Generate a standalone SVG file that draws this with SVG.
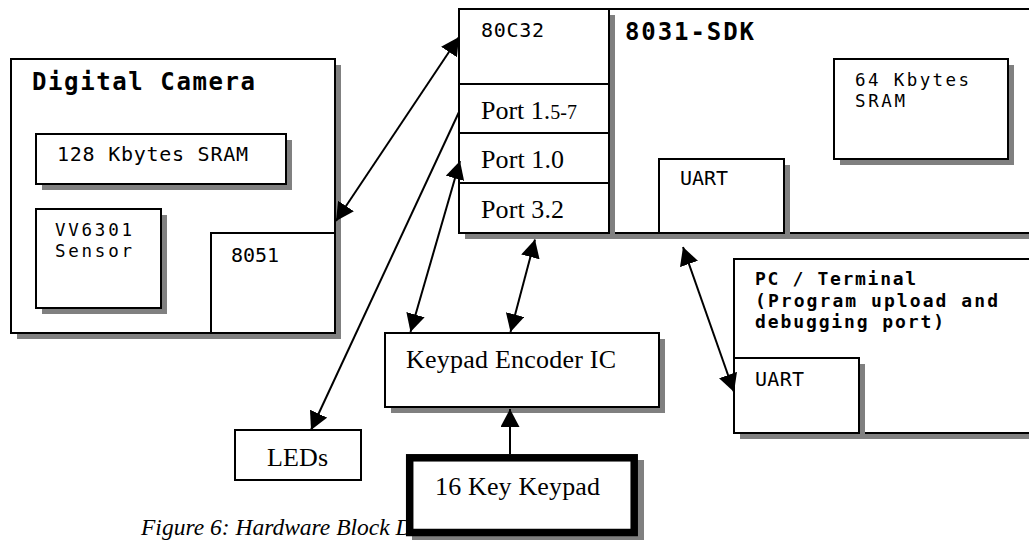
<svg xmlns="http://www.w3.org/2000/svg" width="1029" height="540" viewBox="0 0 1029 540">
  <style>
    .box{fill:#fff;stroke:#000;stroke-width:2}
    .shd{fill:#808080}
    .mono{font-family:"DejaVu Sans Mono","Liberation Mono",monospace;font-size:20px;fill:#000}
    .mono2{font-family:"DejaVu Sans Mono","Liberation Mono",monospace;font-size:17.5px;fill:#000}
    .head{font-family:"DejaVu Sans Mono","Liberation Mono",monospace;font-size:24px;font-weight:bold;fill:#000}
    .pc{font-family:"DejaVu Sans Mono","Liberation Mono",monospace;font-size:18px;font-weight:bold;fill:#000}
    .serif{font-family:"Liberation Serif","Times New Roman",serif;font-size:26px;fill:#000}
    .cap{font-family:"Liberation Serif","Times New Roman",serif;font-size:23.5px;font-style:italic;fill:#000}
    .wire{stroke:#000;stroke-width:2;fill:none}
  </style>
  <defs>
    <marker id="ah" markerUnits="userSpaceOnUse" markerWidth="19" markerHeight="19" refX="18" refY="9.5" orient="auto-start-reverse">
      <path d="M0,0 L18,9.5 L0,19 z" fill="#000"/>
    </marker>
  </defs>

  <rect width="1029" height="540" fill="#fff"/>

  <!-- Digital camera board -->
  <g id="camera">
    <rect class="shd" x="17" y="65" width="324" height="274"/>
    <rect class="box" x="11" y="59" width="324" height="274"/>
    <text class="head" x="32" y="90" textLength="223" lengthAdjust="spacing">Digital Camera</text>
  </g>
  <g id="sram128">
    <rect class="shd" x="42" y="140" width="250" height="50"/>
    <rect class="box" x="36" y="134" width="250" height="50"/>
    <text class="mono" x="57" y="161" textLength="191" lengthAdjust="spacing">128 Kbytes SRAM</text>
  </g>
  <g id="sensor">
    <rect class="shd" x="42" y="215" width="125" height="99"/>
    <rect class="box" x="36" y="209" width="125" height="99"/>
    <text class="mono2" x="55" y="236" textLength="77" lengthAdjust="spacing">VV6301</text>
    <text class="mono2" x="55" y="257" textLength="77" lengthAdjust="spacing">Sensor</text>
  </g>
  <g id="mcu8051">
    <rect class="box" x="211" y="233" width="124" height="100"/>
    <text class="mono" x="231" y="262" textLength="48" lengthAdjust="spacing">8051</text>
  </g>

  <!-- 8031 development board -->
  <g id="sdk">
    <rect class="shd" x="615" y="15" width="430" height="224"/>
    <rect class="box" x="609" y="9" width="430" height="224"/>
    <text class="head" x="625" y="40" textLength="129" lengthAdjust="spacing">8031-SDK</text>
  </g>
  <g id="sram64">
    <rect class="shd" x="840" y="65" width="174" height="100"/>
    <rect class="box" x="834" y="59" width="174" height="100"/>
    <text class="mono2" x="855" y="86" textLength="114" lengthAdjust="spacing">64 Kbytes</text>
    <text class="mono2" x="855" y="107" textLength="50" lengthAdjust="spacing">SRAM</text>
  </g>
  <g id="sdk-uart">
    <rect class="shd" x="665" y="165" width="125" height="74"/>
    <rect class="box" x="659" y="159" width="125" height="74"/>
    <text class="mono" x="680" y="185" textLength="48" lengthAdjust="spacing">UART</text>
  </g>
  <g id="mcu80c32">
    <rect class="shd" x="465" y="15" width="150" height="224"/>
    <rect class="box" x="459" y="9" width="150" height="224"/>
    <line class="wire" x1="459" y1="84" x2="609" y2="84"/>
    <line class="wire" x1="459" y1="133" x2="609" y2="133"/>
    <line class="wire" x1="459" y1="183" x2="609" y2="183"/>
    <text class="mono" x="481" y="37" textLength="63" lengthAdjust="spacing">80C32</text>
    <text class="serif" x="481" y="119">Port 1.<tspan font-size="20">5-7</tspan></text>
    <text class="serif" x="481" y="168" textLength="83" lengthAdjust="spacing">Port 1.0</text>
    <text class="serif" x="481" y="218" textLength="83" lengthAdjust="spacing">Port 3.2</text>
  </g>

  <!-- Host PC -->
  <g id="pc">
    <rect class="shd" x="740" y="265" width="300" height="174"/>
    <rect class="box" x="734" y="259" width="300" height="174"/>
    <text class="pc" x="755" y="285" textLength="161" lengthAdjust="spacing">PC / Terminal</text>
    <text class="pc" x="755" y="306.5" textLength="243" lengthAdjust="spacing">(Program upload and</text>
    <text class="pc" x="755" y="328" textLength="189" lengthAdjust="spacing">debugging port)</text>
  </g>
  <g id="pc-uart">
    <rect class="shd" x="740" y="364" width="125" height="75"/>
    <rect class="box" x="734" y="358" width="125" height="75"/>
    <text class="mono" x="755" y="386" textLength="49" lengthAdjust="spacing">UART</text>
  </g>

  <!-- Keypad path and LEDs -->
  <g id="encoder">
    <rect class="shd" x="391" y="339" width="274" height="74"/>
    <rect class="box" x="385" y="333" width="274" height="74"/>
    <text class="serif" x="406" y="368" textLength="210" lengthAdjust="spacing">Keypad Encoder IC</text>
  </g>
  <g id="leds">
    <rect class="box" x="235" y="430" width="126" height="50"/>
    <text class="serif" x="267" y="466" textLength="61" lengthAdjust="spacing">LEDs</text>
  </g>

  <text id="caption" class="cap" x="141" y="535">Figure 6: Hardware Block Diagram</text>

  <g id="keypad">
    <rect class="shd" x="412" y="460" width="232" height="82"/>
    <rect x="409.7" y="457.8" width="224.5" height="74.7" fill="#fff" stroke="#000" stroke-width="7.5"/>
    <text class="serif" x="435" y="495" textLength="165" lengthAdjust="spacing">16 Key Keypad</text>
  </g>

  <!-- Connectors -->
  <g id="connectors">
    <line class="wire" x1="336" y1="221" x2="459" y2="37" marker-start="url(#ah)" marker-end="url(#ah)"/>
    <line class="wire" x1="459" y1="112" x2="311" y2="430" marker-end="url(#ah)"/>
    <line class="wire" x1="460" y1="161" x2="410.5" y2="332" marker-start="url(#ah)" marker-end="url(#ah)"/>
    <line class="wire" x1="535" y1="239.5" x2="510.5" y2="332" marker-start="url(#ah)" marker-end="url(#ah)"/>
    <line class="wire" x1="510" y1="454" x2="510" y2="409" marker-end="url(#ah)"/>
    <line class="wire" x1="683" y1="247" x2="734" y2="392" marker-start="url(#ah)" marker-end="url(#ah)"/>
  </g>
</svg>
